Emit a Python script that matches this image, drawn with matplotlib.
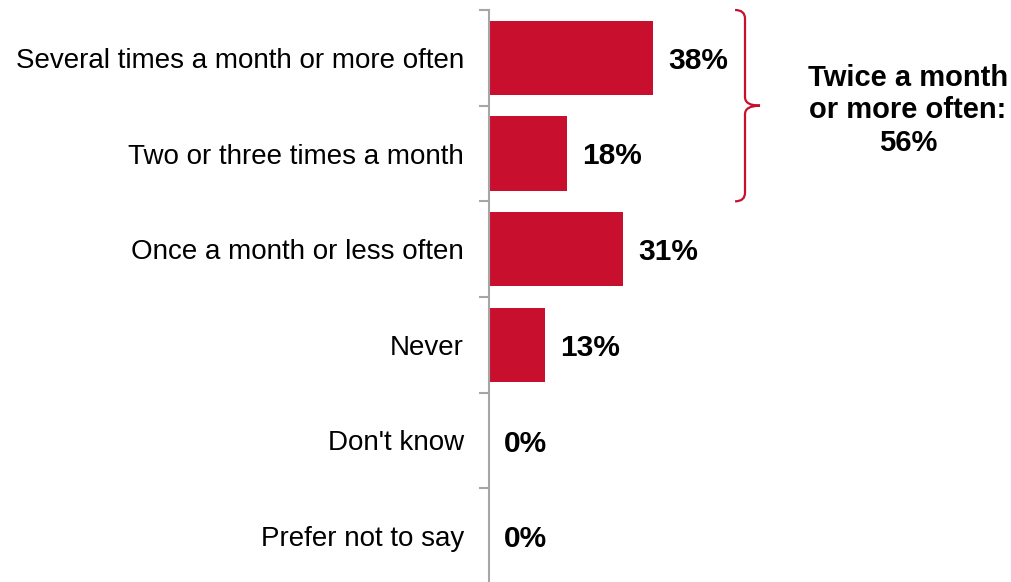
import matplotlib
matplotlib.use("Agg")
import matplotlib.pyplot as plt
from matplotlib.path import Path
from matplotlib.patches import PathPatch
import numpy as np

categories = [
    "Several times a month or more often",
    "Two or three times a month",
    "Once a month or less often",
    "Never",
    "Don't know",
    "Prefer not to say",
]
values = [38, 18, 31, 13, 0, 0]
bracket_text = "Twice a month\nor more often:\n56%"

RED = "#C8102E"
GREY = "#A6A6A6"

plt.rcParams['font.family'] = ['Liberation Sans', 'DejaVu Sans']

W, H = 1011, 582
fig = plt.figure(figsize=(W / 100, H / 100), dpi=100)

px_per_pct = 4.32
left_px, top_px, bottom_px = 489, 10, 584
ax_w_px = W - left_px
ax = fig.add_axes([left_px / W, 1 - bottom_px / H, ax_w_px / W, (bottom_px - top_px) / H])

y = np.arange(len(categories))
ax.barh(y, values, height=0.78, color=RED)
ax.set_xlim(0, ax_w_px / px_per_pct)
ax.set_ylim(len(categories) - 0.5, -0.5)

for yi, v in zip(y, values):
    ax.annotate(f"{v}%", (v, yi), xytext=(15, -3), textcoords="offset pixels",
                va="center", ha="left", fontsize=21.5, fontweight="bold")

# category labels
ax.set_yticks(y)
ax.set_yticklabels(categories, fontsize=20)
ax.tick_params(axis="y", which="major", length=0, pad=18)
ax.set_yticks(np.arange(-0.5, len(categories) + 0.5, 1), minor=True)
ax.tick_params(axis="y", which="minor", length=7, color=GREY, width=1.5)
ax.set_xticks([])

for s in ["top", "right", "bottom"]:
    ax.spines[s].set_visible(False)
ax.spines["left"].set_color(GREY)
ax.spines["left"].set_linewidth(1.5)

# brace spanning first two categories
bx = (745 - left_px) / px_per_pct
tip = (760 - left_px) / px_per_pct
r = 2.3
y0, y1, ym = -0.5, 1.5, 0.5
ry = 0.09
verts = [
    (bx - r, y0), (bx, y0), (bx, y0 + ry),
    (bx, ym - ry),
    (bx, ym), (tip, ym),
    (bx, ym), (bx, ym + ry),
    (bx, y1 - ry),
    (bx, y1), (bx - r, y1),
]
codes = [Path.MOVETO, Path.CURVE3, Path.CURVE3,
         Path.LINETO,
         Path.CURVE3, Path.CURVE3,
         Path.CURVE3, Path.CURVE3,
         Path.LINETO,
         Path.CURVE3, Path.CURVE3]
ax.add_patch(PathPatch(Path(verts, codes), fill=False, edgecolor=RED, lw=1.6, clip_on=False))

ax.text((908 - left_px) / px_per_pct, ym + 0.05, bracket_text, ha="center", va="center",
        fontsize=21, fontweight="bold", linespacing=1.22)

fig.savefig("out.png", dpi=100)
